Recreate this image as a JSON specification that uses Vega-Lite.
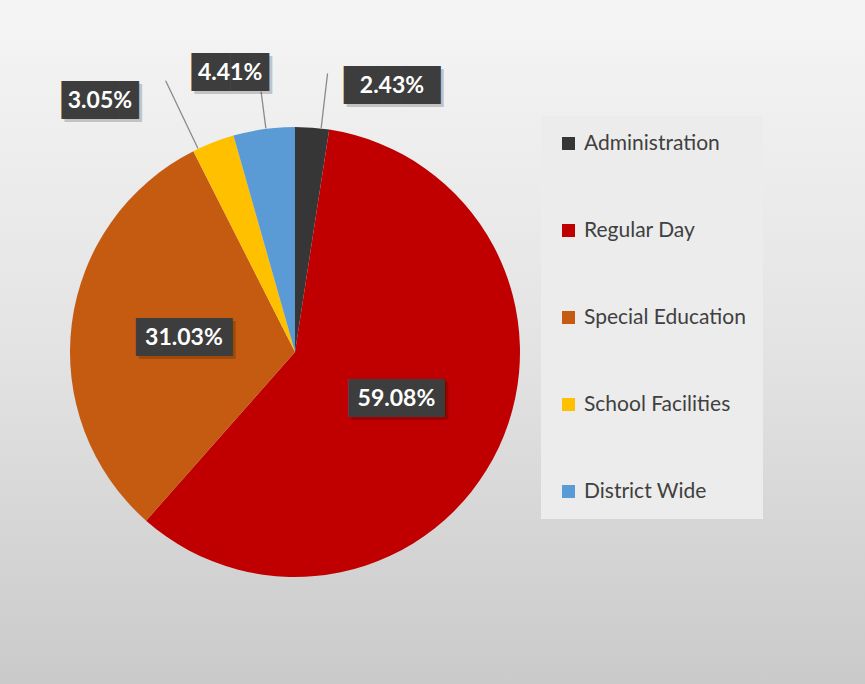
{
  "$schema": "https://vega.github.io/schema/vega-lite/v6.json",
  "padding": {"left": 0, "top": 20, "right": 0, "bottom": 0},
  "background": "#f4f4f4",
  "datasets": {
    "budget": [
      {"category": "Administration", "share": 0.0243, "rank": 1},
      {"category": "Regular Day", "share": 0.5908, "rank": 2},
      {"category": "Special Education", "share": 0.3103, "rank": 3},
      {"category": "School Facilities", "share": 0.0305, "rank": 4},
      {"category": "District Wide", "share": 0.0441, "rank": 5}
    ]
  },
  "data": {"name": "budget"},
  "spacing": 0,
  "hconcat": [
    {
      "width": 590,
      "height": 664,
      "layer": [
        {
          "transform": [{"aggregate": [{"op": "count", "as": "n"}]}],
          "mark": {"type": "rect", "color": {"gradient": "linear", "x1": 0, "y1": 0, "x2": 0, "y2": 1, "stops": [{"offset": 0, "color": "#f4f4f4"}, {"offset": 0.5, "color": "#e3e3e3"}, {"offset": 1, "color": "#cacaca"}]}},
          "encoding": {}
        },
        {
          "mark": {"type": "arc", "outerRadius": 225},
          "encoding": {
            "theta": {"field": "share", "type": "quantitative", "stack": true},
            "order": {"field": "rank", "type": "quantitative"},
            "color": {
              "field": "category",
              "type": "nominal",
              "scale": {
                "domain": ["Administration", "Regular Day", "Special Education", "School Facilities", "District Wide"],
                "range": ["#363636", "#c00000", "#c55a11", "#ffc000", "#5b9bd5"]
              },
              "legend": {
                "orient": "none",
                "legendX": 541,
                "legendY": 96,
                "title": null,
                "symbolType": "square",
                "symbolSize": 169,
                "symbolStrokeWidth": 0,
                "labelFont": "Lato",
                "labelFontSize": 21,
                "labelColor": "#404040",
                "labelOffset": 5,
                "labelLimit": 0,
                "rowPadding": 65,
                "padding": 17,
                "fillColor": "#ececec"
              }
            }
          }
        },
        {
          "transform": [
            {"stack": "share", "groupby": [], "sort": [{"field": "rank", "order": "ascending"}], "as": ["start", "end"]},
            {"filter": "datum.category === 'Administration'"}
          ],
          "mark": {"type": "arc", "clip": true, "innerRadius": 226, "outerRadius": 280, "padAngle": 3, "filled": false, "stroke": "#8a8a8a", "strokeWidth": 1.3, "strokeJoin": "round", "thetaOffset": 0.04, "theta2Offset": 0.04},
          "encoding": {
            "theta": {"field": "start", "type": "quantitative"},
            "theta2": {"field": "end"}
          }
        },
        {
          "transform": [
            {"stack": "share", "groupby": [], "sort": [{"field": "rank", "order": "ascending"}], "as": ["start", "end"]},
            {"filter": "datum.category === 'District Wide'"}
          ],
          "mark": {"type": "arc", "clip": true, "innerRadius": 226, "outerRadius": 262, "padAngle": 3, "filled": false, "stroke": "#8a8a8a", "strokeWidth": 1.3, "strokeJoin": "round", "thetaOffset": 0.009, "theta2Offset": 0.009},
          "encoding": {
            "theta": {"field": "start", "type": "quantitative"},
            "theta2": {"field": "end"}
          }
        },
        {
          "transform": [
            {"stack": "share", "groupby": [], "sort": [{"field": "rank", "order": "ascending"}], "as": ["start", "end"]},
            {"filter": "datum.category === 'School Facilities'"}
          ],
          "mark": {"type": "arc", "clip": true, "innerRadius": 226, "outerRadius": 300, "padAngle": 3, "filled": false, "stroke": "#8a8a8a", "strokeWidth": 1.3, "strokeJoin": "round", "thetaOffset": -0.072, "theta2Offset": -0.072},
          "encoding": {
            "theta": {"field": "start", "type": "quantitative"},
            "theta2": {"field": "end"}
          }
        },
        {
          "mark": {"type": "text", "radius": 112, "dx": 3, "dy": 3, "opacity": 0.18, "font": "DejaVu Sans Mono", "fontSize": 32, "color": "#000000", "align": "center", "baseline": "middle"},
          "encoding": {
            "theta": {"field": "share", "type": "quantitative", "stack": true},
            "order": {"field": "rank", "type": "quantitative"},
            "text": {"condition": {"test": "datum.share > 0.2", "value": "█████"}, "value": ""}
          }
        },
        {
          "mark": {"type": "text", "radius": 112, "font": "DejaVu Sans Mono", "fontSize": 32, "color": "#3d3d3d", "align": "center", "baseline": "middle"},
          "encoding": {
            "theta": {"field": "share", "type": "quantitative", "stack": true},
            "order": {"field": "rank", "type": "quantitative"},
            "text": {"condition": {"test": "datum.share > 0.2", "value": "█████"}, "value": ""}
          }
        },
        {
          "mark": {"type": "text", "radius": 112, "font": "Lato", "fontSize": 23, "fontWeight": "bold", "color": "#ffffff", "align": "center", "baseline": "middle"},
          "encoding": {
            "theta": {"field": "share", "type": "quantitative", "stack": true},
            "order": {"field": "rank", "type": "quantitative"},
            "text": {"condition": {"test": "datum.share > 0.2", "field": "share", "type": "quantitative", "format": ".2%"}, "value": ""}
          }
        },
        {
          "transform": [
            {"stack": "share", "groupby": [], "sort": [{"field": "rank", "order": "ascending"}], "as": ["start", "end"]},
            {"filter": "datum.category === 'Administration'"}
          ],
          "layer": [
            {"mark": {"type": "text", "radius": 283, "thetaOffset": 0.3498, "dx": 3, "dy": 3, "opacity": 0.18, "font": "DejaVu Sans Mono", "fontSize": 32, "color": "#000000", "align": "center", "baseline": "middle"},
             "encoding": {"theta": {"field": "start", "type": "quantitative"}, "text": {"value": "█████"}}},
            {"mark": {"type": "text", "radius": 283, "thetaOffset": 0.3498, "font": "DejaVu Sans Mono", "fontSize": 32, "color": "#3d3d3d", "align": "center", "baseline": "middle"},
             "encoding": {"theta": {"field": "start", "type": "quantitative"}, "text": {"value": "█████"}}},
            {"mark": {"type": "text", "radius": 283, "thetaOffset": 0.3498, "font": "Lato", "fontSize": 23, "fontWeight": "bold", "color": "#ffffff", "align": "center", "baseline": "middle"},
             "encoding": {"theta": {"field": "start", "type": "quantitative"}, "text": {"field": "share", "type": "quantitative", "format": ".2%"}}}
          ]
        },
        {
          "transform": [
            {"stack": "share", "groupby": [], "sort": [{"field": "rank", "order": "ascending"}], "as": ["start", "end"]},
            {"filter": "datum.category === 'District Wide'"}
          ],
          "layer": [
            {"mark": {"type": "text", "radius": 286, "thetaOffset": 0.0483, "dx": 3, "dy": 3, "opacity": 0.18, "font": "DejaVu Sans Mono", "fontSize": 32, "color": "#000000", "align": "center", "baseline": "middle"},
             "encoding": {"theta": {"field": "start", "type": "quantitative"}, "text": {"value": "████"}}},
            {"mark": {"type": "text", "radius": 286, "thetaOffset": 0.0483, "font": "DejaVu Sans Mono", "fontSize": 32, "color": "#3d3d3d", "align": "center", "baseline": "middle"},
             "encoding": {"theta": {"field": "start", "type": "quantitative"}, "text": {"value": "████"}}},
            {"mark": {"type": "text", "radius": 286, "thetaOffset": 0.0483, "font": "Lato", "fontSize": 23, "fontWeight": "bold", "color": "#ffffff", "align": "center", "baseline": "middle"},
             "encoding": {"theta": {"field": "start", "type": "quantitative"}, "text": {"field": "share", "type": "quantitative", "format": ".2%"}}}
          ]
        },
        {
          "transform": [
            {"stack": "share", "groupby": [], "sort": [{"field": "rank", "order": "ascending"}], "as": ["start", "end"]},
            {"filter": "datum.category === 'School Facilities'"}
          ],
          "layer": [
            {"mark": {"type": "text", "radius": 318, "thetaOffset": -0.1917, "dx": 3, "dy": 3, "opacity": 0.18, "font": "DejaVu Sans Mono", "fontSize": 32, "color": "#000000", "align": "center", "baseline": "middle"},
             "encoding": {"theta": {"field": "start", "type": "quantitative"}, "text": {"value": "████"}}},
            {"mark": {"type": "text", "radius": 318, "thetaOffset": -0.1917, "font": "DejaVu Sans Mono", "fontSize": 32, "color": "#3d3d3d", "align": "center", "baseline": "middle"},
             "encoding": {"theta": {"field": "start", "type": "quantitative"}, "text": {"value": "████"}}},
            {"mark": {"type": "text", "radius": 318, "thetaOffset": -0.1917, "font": "Lato", "fontSize": 23, "fontWeight": "bold", "color": "#ffffff", "align": "center", "baseline": "middle"},
             "encoding": {"theta": {"field": "start", "type": "quantitative"}, "text": {"field": "share", "type": "quantitative", "format": ".2%"}}}
          ]
        }
      ]
    },
    {
      "width": 275,
      "height": 664,
      "transform": [{"aggregate": [{"op": "count", "as": "n"}]}],
      "mark": {"type": "rect", "color": {"gradient": "linear", "x1": 0, "y1": 0, "x2": 0, "y2": 1, "stops": [{"offset": 0, "color": "#f4f4f4"}, {"offset": 0.5, "color": "#e3e3e3"}, {"offset": 1, "color": "#cacaca"}]}},
      "encoding": {}
    }
  ],
  "config": {
    "view": {"stroke": null}
  }
}
